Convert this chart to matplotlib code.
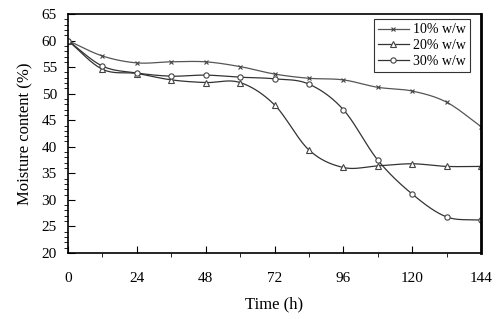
import matplotlib
matplotlib.use('Agg')
import matplotlib.pyplot as plt
import numpy as np

plt.rcParams['font.family'] = ['Liberation Serif', 'DejaVu Serif']

time_h = [0, 12, 24, 36, 48, 60, 72, 84, 96, 108, 120, 132, 144]
mc_10 = [60, 57.1, 55.8, 56.0, 56.0, 55.1, 53.7, 52.9, 52.6, 51.2, 50.5, 48.4, 43.8]
mc_20 = [60, 54.6, 53.8, 52.6, 52.1, 52.1, 47.9, 39.4, 36.1, 36.4, 36.8, 36.3, 36.3]
mc_30 = [60, 55.2, 53.9, 53.3, 53.5, 53.1, 52.8, 51.8, 47.0, 37.5, 31.1, 26.8, 26.2]
labels = ['10% w/w', '20% w/w', '30% w/w']


def smooth(x, y, n=20):
    # Catmull-Rom style curve through the points, like Excel's smoothed line
    x = np.asarray(x, float)
    y = np.asarray(y, float)
    px = np.concatenate([[2 * x[0] - x[1]], x, [2 * x[-1] - x[-2]]])
    py = np.concatenate([[2 * y[0] - y[1]], y, [2 * y[-1] - y[-2]]])
    xs, ys = [], []
    t = np.linspace(0, 1, n, endpoint=False)
    for i in range(1, len(px) - 2):
        for p, out in ((px, xs), (py, ys)):
            p0, p1, p2, p3 = p[i - 1], p[i], p[i + 1], p[i + 2]
            out.extend(0.5 * ((2 * p1) + (-p0 + p2) * t
                              + (2 * p0 - 5 * p1 + 4 * p2 - p3) * t**2
                              + (-p0 + 3 * p1 - 3 * p2 + p3) * t**3))
    xs.append(x[-1])
    ys.append(y[-1])
    return xs, ys


fig = plt.figure(figsize=(5, 3.19), dpi=100)
ax = fig.add_axes([0.136, 0.207, 0.826, 0.749])

styles = [
    (mc_10, 'x', 2.5, '#555555'),
    (mc_20, '^', 4.2, '#333333'),
    (mc_30, 'o', 3.8, '#333333'),
]
for (vals, m, ms, c), lab in zip(styles, labels):
    sx, sy = smooth(time_h, vals)
    ax.plot(sx, sy, color=c, lw=0.9)
    ax.plot(time_h, vals, linestyle='none', marker=m, ms=ms, mfc='white',
            mec='#444444', mew=0.8)
    ax.plot([], [], color=c, lw=0.9, marker=m, ms=ms, mfc='white',
            mec='#444444', mew=0.8, label=lab)

ax.set_xlim(0, 144)
ax.set_ylim(20, 65)
ax.set_xticks(range(0, 145, 24))
ax.set_xticks(range(0, 145, 12), minor=True)
ax.set_yticks(range(20, 66, 5))
ax.set_yticks(range(20, 66, 1), minor=True)
ax.tick_params(direction='in', labelsize=11)
ax.tick_params(axis='x', which='major', length=5, pad=14)
ax.tick_params(axis='x', which='minor', length=3)
ax.tick_params(axis='y', which='major', length=5, pad=8)
ax.tick_params(axis='y', which='minor', length=3)
for s in ax.spines.values():
    s.set_linewidth(1.2)
ax.spines['right'].set_linewidth(2)

ax.set_xlabel('Time (h)', fontsize=12, labelpad=8)
ax.set_ylabel('Moisture content (%)', fontsize=12, labelpad=6)

leg = ax.legend(loc='upper right', bbox_to_anchor=(0.98, 0.99), fontsize=10,
                frameon=True, fancybox=False, edgecolor='black',
                handlelength=2.2, handletextpad=0.3, borderpad=0.3,
                labelspacing=0.2, borderaxespad=0.2)
leg.get_frame().set_linewidth(0.8)

fig.savefig('out.png', dpi=100)
